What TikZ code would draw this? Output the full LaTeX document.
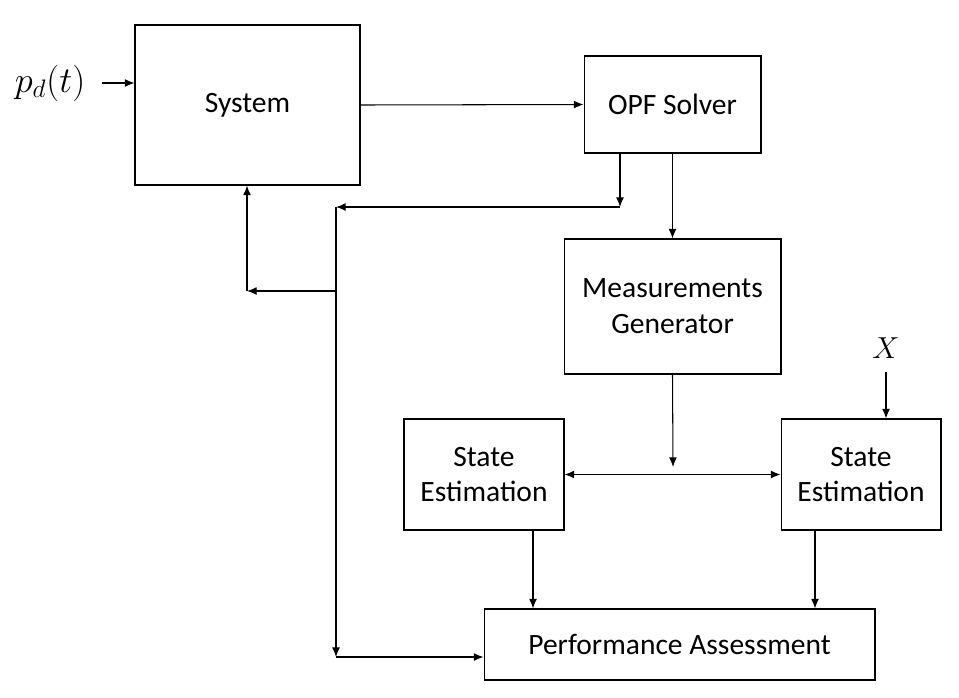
\documentclass[tikz,border=0pt]{standalone}
\usepackage{fontspec}
\setmainfont{Carlito}
\usetikzlibrary{arrows.meta}
\begin{document}
\begin{tikzpicture}[x=0.02cm,y=-0.02cm,line width=0.6pt,>={Latex[length=5.5pt,width=4.5pt]}]
                \tikzset{block/.style={draw,align=center,inner sep=0pt,font=\fontsize{16.8}{20.4}\selectfont}}
                \useasboundingbox (0,0) rectangle (959,697);
                \node [block,minimum width=4.5cm,minimum height=3.2cm] (sys) at (247.5,105) {System};
                \node [block,minimum width=3.54cm,minimum height=1.94cm] (opf) at (672.5,104.5) {OPF Solver};
                \node [block,minimum width=4.34cm,minimum height=2.7cm] (mg) at (672.5,306.5) {Measurements\\Generator};
                \node [block,minimum width=3.2cm,minimum height=2.22cm] (sel) at (484,474.5) {State\\Estimation};
                \node [block,minimum width=3.2cm,minimum height=2.22cm] (ser) at (861,474.5) {State\\Estimation};
                \node [block,minimum width=7.82cm,minimum height=1.42cm] (pa) at (679.5,644.5) {Performance Assessment};
                \node [font=\fontsize{20.5}{24}\selectfont] (pd) at (50,83) {$p_d(t)$};
                \node [font=\fontsize{19}{23}\selectfont] (xin) at (886,348) {$X$};
                \coordinate (a0) at (102,83);
                \coordinate (a1) at (620,207);
                \coordinate (a2) at (336,207);
                \coordinate (a3) at (336,291);
                \coordinate (a4) at (247,291);
                \coordinate (a5) at (336,657);
                \coordinate (a6) at (673,467);
                \coordinate (a7) at (886,372);
                \coordinate (a8) at (533,0);
                \coordinate (a9) at (815,0);
                \draw [->] (a0) -- (sys.west |- a0);
                \draw [->] (sys.east) -- (opf.west);
                \draw [->] (opf.south -| a1) -- (a1);
                \draw [->] (a1) -- (a2);
                \draw [->] (a2) -- (a5);
                \draw [->] (a5) -- (pa.west |- a5);
                \draw [->] (a3) -- (a4);
                \draw [->] (a4) -- (sys.south -| a4);
                \draw [->] (opf.south) -- (mg.north);
                \draw [->] (mg.south) -- (a6);
                \draw [<->] (sel.east) -- (ser.west);
                \draw [->] (a7) -- (ser.north -| a7);
                \draw [->] (sel.south -| a8) -- (pa.north -| a8);
                \draw [->] (ser.south -| a9) -- (pa.north -| a9);
            \end{tikzpicture}
\end{document}
